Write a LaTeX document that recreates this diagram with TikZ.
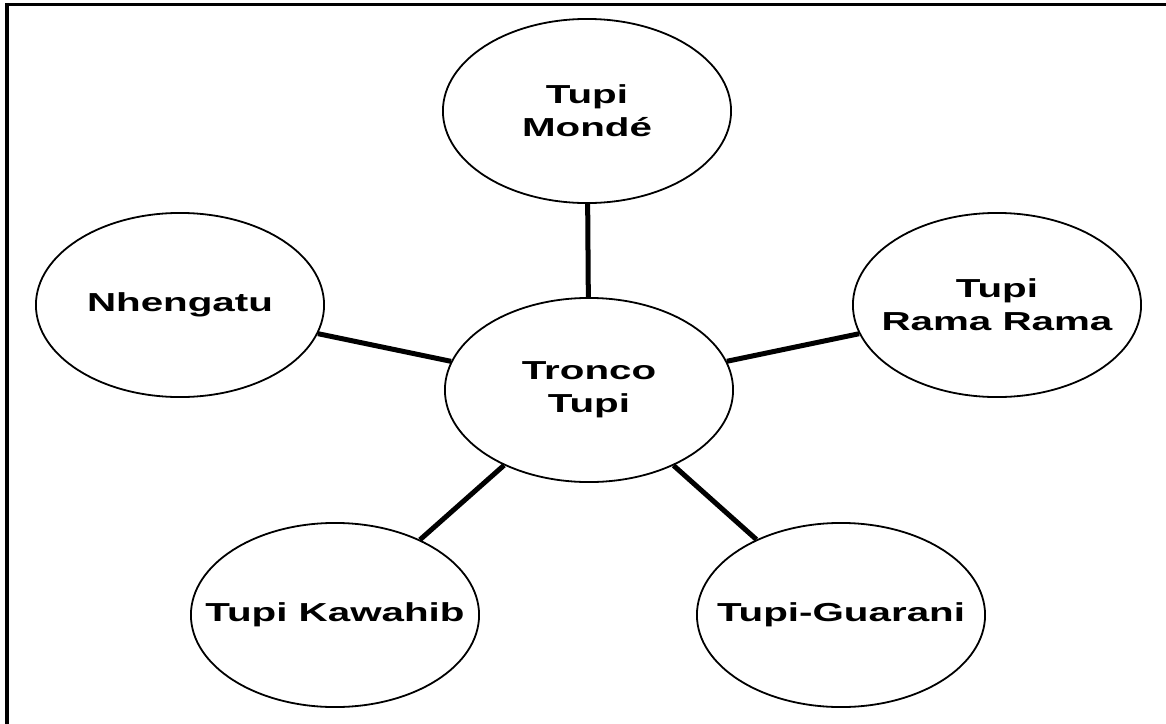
\documentclass[tikz,border=0pt]{standalone}
\usepackage{fontspec}
\setmainfont{Liberation Sans}[FakeStretch=1.55]
\usetikzlibrary{shapes.geometric}

\begin{document}
\begin{tikzpicture}[x=0.01cm, y=-0.01cm,
  bubble/.style={ellipse, draw, line width=0.018cm, minimum width=2.88cm, minimum height=1.84cm, inner sep=0pt},
  every label/.style={font=\fontsize{7.4}{9.4}\selectfont\bfseries, align=center},
  link/.style={line width=0.05cm}]
\useasboundingbox (0,0) rectangle (1166,724);
\draw[line width=0.03cm] (7,724) -- (7,4) -- (1166,4);

\node[bubble, label=center:{Tronco\\Tupi}] (tronco) at (589,390) {};
\node[bubble, label=center:{Tupi\\Mondé}] (monde) at (587,111) {};
\node[bubble, label=center:{Nhengatu}] (nheng) at (180,305) {};
\node[bubble, label=center:{Tupi\\Rama Rama}] (rama) at (997,305) {};
\node[bubble, label=center:{Tupi Kawahib}] (kawa) at (335,615) {};
\node[bubble, label=center:{Tupi-Guarani}] (guar) at (841,615) {};

\draw[link] (tronco) -- (monde);
\draw[link] (tronco) -- (nheng);
\draw[link] (tronco) -- (rama);
\draw[link] (tronco) -- (kawa);
\draw[link] (tronco) -- (guar);

\end{tikzpicture}
\end{document}
